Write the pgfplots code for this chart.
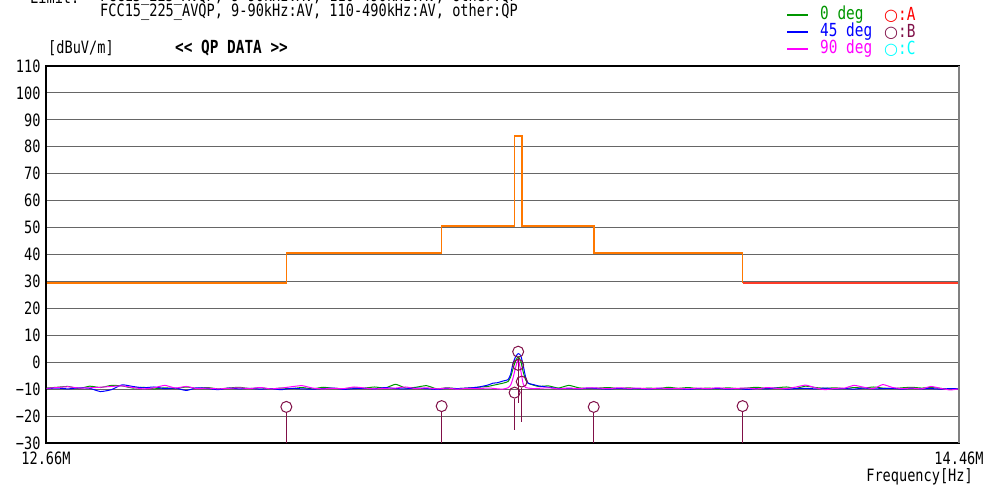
\documentclass[border=0pt]{standalone}
\usepackage{fontspec}
\setmainfont{DejaVu Sans Mono}[FakeStretch=0.8]
\newfontfamily\symfont{DejaVu Sans}
\usepackage{pgfplots}
\pgfplotsset{compat=1.18}
\usepackage{pgfplotstable}
\definecolor{cgreen}{RGB}{0,150,0}
\definecolor{cblue}{RGB}{0,0,255}
\definecolor{cmag}{RGB}{255,0,255}
\definecolor{cpurp}{RGB}{128,16,72}
\definecolor{corange}{RGB}{255,120,0}
\definecolor{cred}{RGB}{255,60,40}
\definecolor{ccyan}{RGB}{0,255,255}
\pgfplotstableread{
f g b m
12.66 -9.6 -9.8 -9.7
12.68 -9.3 -9.6 -9.4
12.70 -9.0 -9.9 -9.1
12.72 -9.8 -9.5 -9.6
12.74 -8.9 -9.7 -9.5
12.76 -9.4 -10.9 -9.3
12.78 -8.6 -10.2 -9.0
12.80 -8.8 -8.4 -8.8
12.82 -9.6 -9.0 -9.4
12.84 -9.3 -9.5 -9.9
12.86 -9.9 -9.2 -9.5
12.88 -9.5 -9.8 -8.6
12.90 -9.8 -9.6 -9.6
12.92 -9.2 -10.5 -9.0
12.94 -9.7 -9.5 -9.8
12.96 -9.4 -9.7 -9.6
12.98 -9.9 -10.2 -9.9
13.00 -9.6 -9.6 -9.7
13.02 -9.3 -9.9 -9.5
13.04 -9.8 -9.7 -9.8
13.06 -9.5 -10.0 -9.4
13.08 -9.9 -9.8 -9.9
13.10 -9.6 -10.2 -9.6
13.12 -9.8 -9.7 -9.1
13.14 -9.4 -9.9 -8.7
13.16 -9.9 -10.0 -9.6
13.18 -9.3 -9.8 -9.9
13.20 -9.7 -9.6 -9.7
13.22 -9.8 -10.1 -9.8
13.24 -9.5 -9.8 -9.2
13.26 -9.6 -9.7 -9.6
13.28 -9.2 -9.9 -9.9
13.30 -9.6 -9.4 -9.7
13.32 -8.2 -9.8 -9.6
13.34 -9.6 -9.9 -9.2
13.36 -9.3 -9.6 -9.8
13.38 -8.7 -9.8 -9.5
13.40 -9.9 -10.1 -9.9
13.42 -9.5 -9.7 -9.6
13.44 -9.8 -9.8 -10.0
13.46 -9.6 -9.6 -9.7
13.48 -9.3 -9.3 -9.8
13.50 -9.0 -8.5 -9.6
13.51 -8.6 -7.8 -9.7
13.52 -8.2 -7.6 -9.9
13.53 -7.8 -7.0 -10.0
13.54 -7.2 -6.5 -9.5
13.545 -5.5 -4.5 -8.5
13.55 -2.5 -0.5 -6.0
13.555 0.5 2.0 -2.0
13.56 2.0 3.2 1.0
13.565 0.5 2.5 -3.0
13.57 -3.5 -1.0 -8.0
13.575 -6.5 -5.5 -9.4
13.58 -7.8 -7.8 -9.6
13.59 -8.5 -8.3 -9.8
13.60 -9.0 -8.8 -9.7
13.62 -8.8 -9.3 -9.5
13.64 -9.6 -9.8 -9.9
13.66 -8.6 -9.7 -9.6
13.68 -9.5 -9.9 -9.8
13.70 -9.8 -9.6 -9.5
13.72 -9.6 -9.8 -9.6
13.74 -9.4 -10.0 -9.8
13.76 -9.8 -9.7 -9.5
13.78 -9.5 -9.9 -9.7
13.80 -9.9 -9.8 -9.6
13.82 -9.6 -10.0 -9.9
13.84 -9.8 -9.7 -9.6
13.86 -9.3 -9.9 -9.8
13.88 -9.7 -9.8 -9.7
13.90 -9.4 -10.1 -9.9
13.92 -9.8 -9.8 -9.6
13.94 -9.6 -9.9 -9.8
13.96 -9.9 -9.7 -9.5
13.98 -9.5 -10.0 -9.8
14.00 -9.8 -9.8 -9.7
14.02 -9.6 -10.1 -9.6
14.04 -9.3 -9.8 -9.9
14.06 -9.8 -9.9 -9.4
14.08 -9.5 -9.6 -9.7
14.10 -9.2 -10.0 -9.8
14.12 -9.7 -9.8 -9.2
14.14 -8.9 -9.7 -8.5
14.16 -9.4 -9.9 -9.5
14.18 -9.7 -9.6 -10.2
14.20 -9.5 -9.9 -9.7
14.22 -9.8 -9.8 -9.6
14.24 -9.4 -10.0 -8.6
14.26 -9.6 -9.6 -9.3
14.28 -9.2 -9.9 -9.8
14.30 -9.6 -9.8 -8.3
14.32 -9.8 -9.7 -9.4
14.34 -9.5 -10.0 -9.8
14.36 -9.3 -9.7 -9.6
14.38 -9.6 -9.9 -9.9
14.40 -9.4 -9.8 -9.0
14.42 -9.7 -10.0 -9.7
14.44 -10.1 -9.8 -10.3
14.46 -9.8 -9.9 -9.9
}\traces
\begin{document}
\begin{tikzpicture}[x=1bp,y=1bp]
\path[use as bounding box] (0,0) rectangle (988,488);
\begin{axis}[
  at={(46bp,45bp)}, anchor=south west,
  width=913bp, height=377bp, scale only axis,
  x coord trafo/.code={\pgfmathparse{ln(#1)}},
  x coord inv trafo/.code={\pgfmathparse{exp(#1)}},
  xmin=12.66, xmax=14.46,
  ymin=-30, ymax=110,
  ytick={-30,-20,...,110},
  yticklabels={−30,−20,−10,0,10,20,30,40,50,60,70,80,90,100,110},
  xtick={12.66,14.46}, xticklabels={12.66M,14.46M},
  major tick length=0pt, minor tick length=0pt,
  ymajorgrids,
  grid style={black!60, line width=1bp},
  axis line style={black, line width=1.2bp},
  ticklabel style={font=\fontsize{17bp}{19bp}\selectfont},
  yticklabel style={xshift=-2bp},
  xticklabel style={yshift=-5bp},
  unbounded coords=jump,
]
\addplot[cgreen, line width=1bp, smooth, tension=0.3] table[x=f,y=g] {\traces};
\addplot[cblue, line width=1bp, smooth, tension=0.3] table[x=f,y=b] {\traces};
\addplot[cmag, line width=1bp, smooth, tension=0.3] table[x=f,y=m] {\traces};
\addplot[corange, line width=1.6bp] coordinates {
(12.66,29.5)(13.11,29.5)(13.11,40.5)(13.41,40.5)(13.41,50.5)(13.553,50.5)(13.553,84)(13.567,84)(13.567,50.5)(13.71,50.5)(13.71,40.5)(14.01,40.5)(14.01,29.5)};
\addplot[cred, line width=1.6bp] coordinates {(14.01,29.5)(14.46,29.5)};
\addplot[cpurp, line width=1bp] coordinates {
(13.11,-18.8)(13.11,-31) (13.11,nan)
(13.41,-18.5)(13.41,-31) (13.41,nan)
(13.71,-18.8)(13.71,-31) (13.71,nan)
(14.01,-18.5)(14.01,-31) (14.01,nan)
(13.553,-13.5)(13.553,-25.2) (13.553,nan)
(13.560,1.7)(13.560,-15.1) (13.560,nan)
(13.567,-9.4)(13.567,-22.1)};
\addplot[only marks, mark=o, mark size=5.5bp, cpurp, mark options={line width=1bp}] coordinates {
(13.11,-16.6)(13.41,-16.3)(13.71,-16.6)(14.01,-16.3)(13.553,-11.3)(13.56,3.9)(13.56,-1.0)(13.567,-7.2)};
\end{axis}
\draw[black!50, line width=1.5bp] (959,45) -- (959,422);
\begin{scope}[every node/.style={inner sep=0pt, font=\fontsize{17bp}{19bp}\selectfont}]
\node[anchor=west] at (30,491) {Limit:};
\node[anchor=west] at (100,491) {FCC15\_225\_AVQP, 9-90kHz:AV, 110-490kHz:AV, other:QP};
\node[anchor=west] at (100,476) {FCC15\_225\_AVQP, 9-90kHz:AV, 110-490kHz:AV, other:QP};
\node[anchor=west] at (48,440) {[dBuV/m]};
\node[anchor=west, font=\fontsize{18bp}{20bp}\selectfont\bfseries] at (175,440) {<{}< QP DATA >{}>};
\draw[cgreen, line width=1.2bp] (787,473) -- (808,473);
\draw[cblue, line width=1.2bp] (787,456) -- (808,456);
\draw[cmag, line width=1.2bp] (787,439) -- (808,439);
\begin{scope}[every node/.append style={font=\fontsize{18bp}{20bp}\selectfont}]
\node[anchor=west, text=cgreen] at (820,473) {0 deg};
\node[anchor=west, text=cblue] at (820,456) {45 deg};
\node[anchor=west, text=cmag] at (820,439) {90 deg};
\node[anchor=west, text=red] at (884,473) {{\symfont\fontsize{16bp}{18bp}\selectfont ○}:A};
\node[anchor=west, text=cpurp] at (884,456) {{\symfont\fontsize{16bp}{18bp}\selectfont ○}:B};
\node[anchor=west, text=ccyan] at (884,439) {{\symfont\fontsize{16bp}{18bp}\selectfont ○}:C};
\end{scope}
\node[anchor=east] at (973,11) {Frequency[Hz]};
\end{scope}
\end{tikzpicture}
\end{document}
